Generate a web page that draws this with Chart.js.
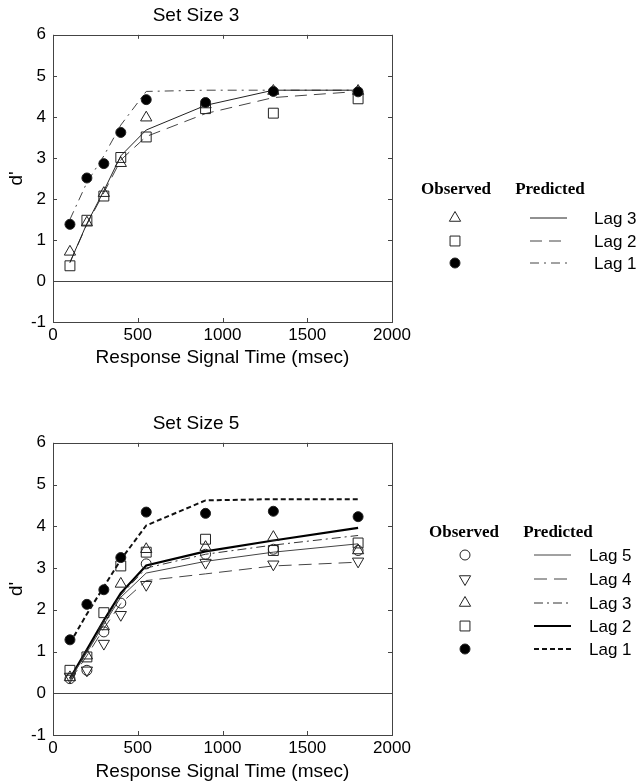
<!DOCTYPE html>
<html>
<head>
<meta charset="utf-8">
<script src="https://cdn.jsdelivr.net/npm/chart.js@4.4.0/dist/chart.umd.min.js"></script>
<style>
  body { margin: 0; background: #fff; }
  .box { position: absolute; left: 0; width: 641px; }
</style>
</head>
<body>
<div class="box" style="top:0;height:380px"><canvas id="chart3"></canvas></div>
<div class="box" style="top:408px;height:376px"><canvas id="chart5"></canvas></div>
<script>
// response signal times (msec)
var times = [100, 200, 300, 400, 550, 900, 1300, 1800];

// Set Size 3 - observed d'
var obs3Lag1 = [1.38, 2.51, 2.86, 3.62, 4.42, 4.35, 4.62, 4.61];
var obs3Lag2 = [0.37, 1.48, 2.07, 3.01, 3.51, 4.20, 4.09, 4.44];
var obs3Lag3 = [0.71, 1.42, 2.14, 2.87, 3.98, 4.30, 4.63, 4.63];
// Set Size 3 - predicted d'
var pred3Lag1 = [1.50, 2.40, 3.05, 3.80, 4.62, 4.65, 4.65, 4.65];
var pred3Lag2 = [0.45, 1.38, 2.15, 2.95, 3.52, 4.08, 4.47, 4.62];
var pred3Lag3 = [0.45, 1.40, 2.20, 3.05, 3.68, 4.28, 4.65, 4.65];

// Set Size 5 - observed d'
var obs5Lag1 = [1.28, 2.13, 2.48, 3.25, 4.34, 4.31, 4.36, 4.23];
var obs5Lag2 = [0.55, 0.87, 1.93, 3.05, 3.38, 3.69, 3.42, 3.60];
var obs5Lag3 = [0.38, 0.90, 1.60, 2.62, 3.45, 3.50, 3.74, 3.42];
var obs5Lag4 = [0.40, 0.55, 1.19, 1.88, 2.60, 3.13, 3.09, 3.16];
var obs5Lag5 = [0.35, 0.55, 1.47, 2.16, 3.10, 3.33, 3.45, 3.42];
// Set Size 5 - predicted d'
var pred5Lag1 = [1.20, 1.90, 2.55, 3.20, 4.02, 4.62, 4.65, 4.65];
var pred5Lag2 = [0.35, 1.05, 1.75, 2.40, 3.06, 3.40, 3.66, 3.96];
var pred5Lag3 = [0.35, 1.00, 1.70, 2.35, 3.00, 3.33, 3.55, 3.78];
var pred5Lag4 = [0.30, 0.90, 1.55, 2.15, 2.70, 2.86, 3.05, 3.14];
var pred5Lag5 = [0.33, 0.98, 1.65, 2.30, 2.88, 3.16, 3.38, 3.58];

var xMin = 0, xMax = 2000, xStep = 500;
var yMin = -1, yMax = 6, yStep = 1;

var INK = '#222';
var AXIS = '#444';
var SANS = "'Liberation Sans', Arial, sans-serif";
var SERIF = "'Liberation Serif', 'Times New Roman', serif";

function pts(vals) {
  return vals.map(function (v, i) { return { x: times[i], y: v }; });
}

function observed(vals, style, radius, rotation, filled) {
  return {
    data: pts(vals),
    showLine: false,
    pointStyle: style,
    pointRadius: radius,
    pointRotation: rotation || 0,
    pointBorderWidth: 1,
    pointBorderColor: INK,
    pointBackgroundColor: filled ? '#000' : 'rgba(0,0,0,0)'
  };
}

function predicted(vals, color, width, dash) {
  return {
    data: pts(vals),
    showLine: true,
    borderColor: color,
    borderWidth: width,
    borderDash: dash,
    pointRadius: 0,
    fill: false,
    tension: 0
  };
}

// box, zero line and inward tick marks
var frame = {
  id: 'frame',
  afterDraw: function (chart) {
    var ctx = chart.ctx, a = chart.chartArea;
    var xs = chart.scales.x, ys = chart.scales.y;
    ctx.save();
    ctx.strokeStyle = AXIS;
    ctx.lineWidth = 1;
    ctx.beginPath();
    var y0 = Math.round(ys.getPixelForValue(0)) + 0.5;
    ctx.moveTo(a.left, y0); ctx.lineTo(a.right, y0);
    xs.ticks.forEach(function (t) {
      var px = Math.round(xs.getPixelForValue(t.value)) + 0.5;
      ctx.moveTo(px, a.top); ctx.lineTo(px, a.top + 4);
      ctx.moveTo(px, a.bottom); ctx.lineTo(px, a.bottom - 4);
    });
    ys.ticks.forEach(function (t) {
      var py = Math.round(ys.getPixelForValue(t.value)) + 0.5;
      ctx.moveTo(a.left, py); ctx.lineTo(a.left + 4, py);
      ctx.moveTo(a.right, py); ctx.lineTo(a.right - 4, py);
    });
    ctx.stroke();
    ctx.strokeRect(Math.round(a.left) + 0.5, Math.round(a.top) + 0.5,
      Math.round(a.right - a.left), Math.round(a.bottom - a.top));
    ctx.restore();
  }
};

// two-column legend: Observed markers / Predicted lines
var sideLegend = {
  id: 'sideLegend',
  afterDraw: function (chart, args, o) {
    if (!o.rows) return;
    var ctx = chart.ctx;
    ctx.save();
    ctx.fillStyle = '#000';
    ctx.textBaseline = 'middle';
    ctx.textAlign = 'center';
    ctx.font = 'bold 17px ' + SERIF;
    ctx.fillText('Observed', o.obsX, o.headY);
    ctx.fillText('Predicted', o.predX, o.headY);
    ctx.textAlign = 'left';
    ctx.font = '17px ' + SANS;
    o.rows.forEach(function (r, i) {
      var y = o.rowY[i];
      var d = chart.data.datasets[r.obs];
      ctx.strokeStyle = INK;
      ctx.fillStyle = d.pointBackgroundColor;
      ctx.lineWidth = 1;
      Chart.helpers.drawPoint(ctx, {
        pointStyle: d.pointStyle, radius: d.pointRadius,
        rotation: d.pointRotation, borderWidth: 1
      }, o.markX, y);
      var p = chart.data.datasets[r.pred];
      ctx.strokeStyle = p.borderColor;
      ctx.lineWidth = p.borderWidth;
      ctx.setLineDash(p.borderDash || []);
      ctx.beginPath();
      ctx.moveTo(o.lineX1, y); ctx.lineTo(o.lineX2, y);
      ctx.stroke();
      ctx.setLineDash([]);
      ctx.fillStyle = '#000';
      ctx.fillText(r.label, o.textX, y + 1);
    });
    ctx.restore();
  }
};

function makeChart(id, title, datasets, legend, axisH, titlePad) {
  return new Chart(document.getElementById(id), {
    type: 'line',
    data: { datasets: datasets },
    options: {
      responsive: true,
      maintainAspectRatio: false,
      animation: false,
      layout: { padding: { left: 0, right: 249, top: 0, bottom: 0 } },
      plugins: {
        legend: { display: false },
        tooltip: { enabled: false },
        title: {
          display: true, text: title, color: '#000',
          font: { family: SANS, size: 19, weight: 'normal' },
          padding: { top: 4, bottom: 8 }
        },
        sideLegend: legend
      },
      scales: {
        x: {
          type: 'linear', min: xMin, max: xMax,
          border: { display: false },
          grid: { display: false, drawTicks: false, tickLength: 0 },
          ticks: { stepSize: xStep, color: '#000', padding: 3, maxRotation: 0,
                   font: { family: SANS, size: 17 },
                   callback: function (v) { return String(v); } },
          title: { display: true, text: 'Response Signal Time (msec)', color: '#000',
                   font: { family: SANS, size: 19 }, padding: { top: 0, bottom: titlePad } },
          afterFit: function (s) { s.height = axisH; }
        },
        y: {
          min: yMin, max: yMax,
          border: { display: false },
          grid: { display: false, drawTicks: false, tickLength: 0 },
          ticks: { stepSize: yStep, color: '#000', padding: 7,
                   font: { family: SANS, size: 17 } },
          title: { display: true, text: "d'", color: '#000',
                   font: { family: SANS, size: 19 }, padding: { top: 5, bottom: 0 } },
          afterFit: function (s) { s.width = 53; }
        }
      }
    },
    plugins: [frame, sideLegend]
  });
}

// Set Size 3
makeChart('chart3', 'Set Size 3', [
  observed(obs3Lag1, 'circle', 5, 0, true),
  observed(obs3Lag3, 'triangle', 6.5, 0, false),
  observed(obs3Lag2, 'rect', 7, 0, false),
  predicted(pred3Lag3, '#222', 1, []),
  predicted(pred3Lag2, '#444', 1, [12, 7]),
  predicted(pred3Lag1, '#444', 1, [9, 5, 2, 5])
], {
  headY: 190, obsX: 456, predX: 550,
  rowY: [218, 241, 263], markX: 455, lineX1: 530, lineX2: 567, textX: 594,
  rows: [
    { obs: 1, pred: 3, label: 'Lag 3' },
    { obs: 2, pred: 4, label: 'Lag 2' },
    { obs: 0, pred: 5, label: 'Lag 1' }
  ]
}, 58, 11);

// Set Size 5
makeChart('chart5', 'Set Size 5', [
  observed(obs5Lag1, 'circle', 5, 0, true),
  observed(obs5Lag5, 'circle', 5, 0, false),
  observed(obs5Lag4, 'triangle', 6.5, 180, false),
  observed(obs5Lag3, 'triangle', 6.5, 0, false),
  observed(obs5Lag2, 'rect', 7, 0, false),
  predicted(pred5Lag5, '#444', 1, []),
  predicted(pred5Lag4, '#444', 1, [13, 7]),
  predicted(pred5Lag3, '#333', 1, [9, 4, 2, 4]),
  predicted(pred5Lag2, '#000', 2.2, []),
  predicted(pred5Lag1, '#111', 2, [5, 3])
], {
  headY: 125, obsX: 464, predX: 558,
  rowY: [147, 171, 195, 218, 241], markX: 465, lineX1: 534, lineX2: 571, textX: 589,
  rows: [
    { obs: 1, pred: 5, label: 'Lag 5' },
    { obs: 2, pred: 6, label: 'Lag 4' },
    { obs: 3, pred: 7, label: 'Lag 3' },
    { obs: 4, pred: 8, label: 'Lag 2' },
    { obs: 0, pred: 9, label: 'Lag 1' }
  ]
}, 49, 1);
</script>
</body>
</html>
